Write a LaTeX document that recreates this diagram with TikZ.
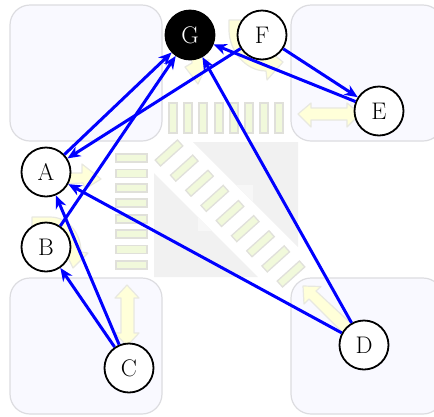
\documentclass[tikz,border=0pt]{standalone}
\usetikzlibrary{arrows.meta}
\definecolor{roomfill}{HTML}{F9F9FF}
\definecolor{roomline}{HTML}{DCDCE0}
\definecolor{padgray}{HTML}{F1F1F1}
\definecolor{padlight}{HTML}{F7F7F7}
\definecolor{stripefill}{HTML}{F1F9DB}
\definecolor{stripeline}{HTML}{E0E0DA}
\definecolor{arrowfill}{HTML}{FFFFD9}
\definecolor{arrowline}{HTML}{E8E8E0}
\tikzset{
  room/.style={draw=roomline,fill=roomfill,line width=1.2pt,rounded corners=20pt},
  stripe/.style={draw=stripeline,fill=stripefill,line width=1.3pt,minimum width=#1,minimum height=8pt,inner sep=0pt},
  flow/.style={draw=arrowline,fill=arrowfill,line width=1.2pt,line join=round},
  station/.style={circle,draw=black,fill=white,line width=1.8pt,minimum size=49pt,inner sep=0pt,font=\fontsize{24}{24}\selectfont},
  hub/.style={station,fill=black,text=white},
  link/.style={draw=blue,line width=3pt,-{Stealth[length=13pt,width=11pt,inset=4pt]}}
}
\begin{document}
\begin{tikzpicture}[x=1pt,y=-1pt]
\useasboundingbox (0,0) rectangle (434,416);
\clip (0,0) rectangle (434,416);
% rooms
\path[room] (10,5) rectangle (162,141);
\path[room] (10,278) rectangle (162,414);
\path[room] (291,5) rectangle (443,141);
\path[room] (291,278) rectangle (443,414);
% central pad
\fill[padgray] (193,142) -- (298,142) -- (298,247) -- cycle;
\fill[padgray] (154,173) -- (154,277) -- (258,277) -- cycle;
\fill[padlight] (236,185) -- (253,185) -- (253,202) -- cycle;
\fill[padlight] (198,217) -- (198,231) -- (212,231) -- cycle;
% top stripes
\foreach \x in {173,188,203,219,234,249,264,279}
  \node[stripe=8pt,minimum height=30pt] at (\x,118) {};
% left stripes
\foreach \y in {158,173.5,188,203,219,234,249.5,265}
  \node[stripe=31pt] at (131.5,\y) {};
% diagonal stripes
\foreach \i in {0,...,8}
  \node[stripe=30pt,rotate=42] at ({169+15.25*\i},{153+15.125*\i}) {};
% flow arrows
\draw[flow] (298,114) -- (311,103) -- (311,108) -- (347,108) -- (347,103) -- (360,114) -- (347,127) -- (347,120) -- (311,120) -- (311,127) -- cycle;
\draw[flow] (127,285) -- (139,298) -- (134,298) -- (134,333) -- (139,333) -- (127,346) -- (115,333) -- (121,333) -- (121,298) -- (115,298) -- cycle;
\draw[flow] (303,286) -- (321,286.5) -- (316,291) -- (357,329) -- (348,338) -- (309,299) -- (304,304) -- cycle;
\draw[flow] (60,173) -- (82,173) -- (82,164) -- (101,179) -- (85,189) -- (83,183) -- (60,184) -- cycle;
\draw[flow] (32,217) -- (50,217) .. controls (68,217) and (81,233) .. (81,252) -- (88,253) -- (73,268) -- (64,249) -- (69,250) .. controls (68,238) and (52,229) .. (32,229) -- cycle;
\draw[flow] (229,20) -- (241,20) -- (241,30) .. controls (241,45) and (252,57) .. (266,58) -- (264,47) -- (283,62) -- (267,80) -- (266,71) .. controls (245,71) and (229,50) .. (229,30) -- cycle;
\draw[flow] (190,35) -- (202,35) -- (204,60) -- (209,60) -- (198,84) -- (185,67) -- (192,63) -- cycle;
% stations
\node[station] (A) at (46,172) {A};
\node[station] (B) at (46,247) {B};
\node[station] (C) at (129,368) {C};
\node[station] (D) at (364,345) {D};
\node[station] (E) at (379,111) {E};
\node[station] (F) at (262,35) {F};
\node[hub] (G) at (190,35) {G};
% links
\draw[link] (A) -- (G);
\draw[link] (B) -- (G);
\draw[link] (F) -- (A);
\draw[link] (F) -- (E);
\draw[link] (E) -- (G);
\draw[link] (D) -- (G);
\draw[link] (D) -- (A);
\draw[link] (C) -- (A);
\draw[link] (C) -- (B);
\end{tikzpicture}
\end{document}
